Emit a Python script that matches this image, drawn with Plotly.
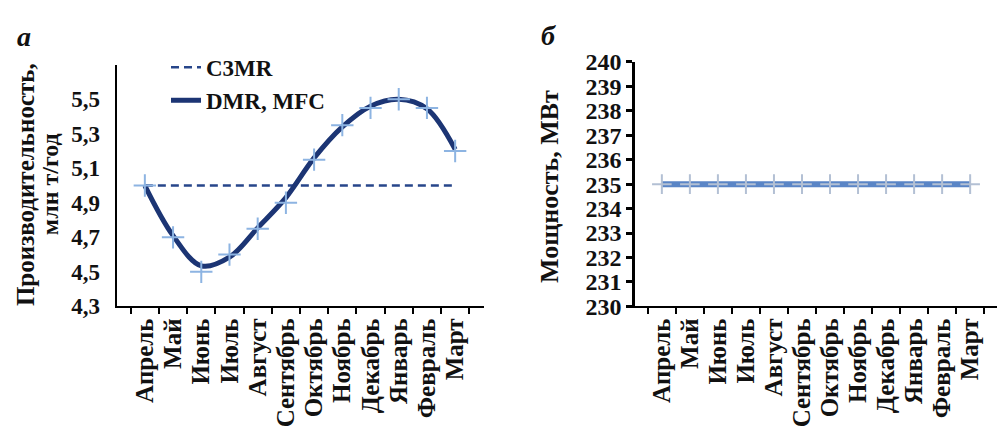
import plotly.graph_objects as go

months = ["Апрель", "Май", "Июнь", "Июль", "Август", "Сентябрь", "Октябрь",
          "Ноябрь", "Декабрь", "Январь", "Февраль", "Март"]
c3mr = [5.0] * 12
dmr_points = [5.0, 4.7, 4.5, 4.6, 4.75, 4.9, 5.15, 5.35, 5.45, 5.5, 5.45, 5.2]
dmr_curve = [5.0, 4.71, 4.535, 4.585, 4.755, 4.93, 5.16, 5.34, 5.46, 5.5, 5.445, 5.21]
power = [235] * 12
left_ticks = [4.3, 4.5, 4.7, 4.9, 5.1, 5.3, 5.5]
left_ticktext = ["4,3", "4,5", "4,7", "4,9", "5,1", "5,3", "5,5"]

W, H = 997, 436
FONT = "Liberation Serif"
NAVY = "#1c3574"

def px(x):
    return x / W

def py(y):
    return 1 - y / H

fig = go.Figure()
fig.add_trace(go.Scatter(x=months, y=c3mr, mode="lines", name="C3MR",
                         line=dict(color="#27468a", width=2.5, dash="8px,5px"),
                         xaxis="x", yaxis="y"))
fig.add_trace(go.Scatter(x=months, y=dmr_curve, mode="lines", name="DMR, MFC",
                         line=dict(color=NAVY, width=5, shape="spline", smoothing=1.0),
                         xaxis="x", yaxis="y"))
fig.add_trace(go.Scatter(x=months, y=dmr_points, mode="markers", showlegend=False,
                         marker=dict(symbol="cross-thin", size=16, color="#8db4e2",
                                     line=dict(color="#8db4e2", width=2)),
                         xaxis="x", yaxis="y"))
fig.add_trace(go.Scatter(x=months, y=power, mode="lines", showlegend=False,
                         line=dict(color="#5a85c6", width=6),
                         xaxis="x2", yaxis="y2"))
fig.add_trace(go.Scatter(x=months, y=power, mode="markers", showlegend=False,
                         marker=dict(symbol="cross-thin", size=14, color="#b3c0d4",
                                     line=dict(color="#b3c0d4", width=2)),
                         xaxis="x2", yaxis="y2"))

axis_common = dict(showline=True, linecolor="black", showgrid=False, zeroline=False)
tickfont_x = dict(family=FONT, size=25, color="#111", weight="bold")
xcat = dict(type="category", tickmode="array", tickvals=months, ticktext=months,
            ticks="outside", tickson="boundaries", ticklen=6, tickwidth=1.5,
            tickcolor="black", tickangle=-90, tickfont=tickfont_x, linewidth=2,
            **axis_common)

fig.update_layout(
    width=W, height=H,
    margin=dict(l=0, r=0, t=0, b=0),
    paper_bgcolor="white", plot_bgcolor="white",
    font=dict(family=FONT, color="#111"),
    xaxis=dict(domain=[px(116.5), px(483.5)], anchor="y", **xcat),
    yaxis=dict(domain=[py(312), py(55)], range=[4.3, 5.7], anchor="x",
               tickvals=left_ticks, ticktext=left_ticktext, ticks="",
               ticklabelstandoff=10,
               tickfont=dict(family=FONT, size=23, color="#111", weight="bold"),
               linewidth=2, **axis_common),
    xaxis2=dict(domain=[px(635), 1.0], anchor="y2", **xcat),
    yaxis2=dict(domain=[py(312), py(52)], range=[230, 240], dtick=1, anchor="x2",
                ticks="outside", ticklen=6, tickwidth=2.5, tickcolor="black",
                tickfont=dict(family=FONT, size=24, color="#111", weight="bold"),
                linewidth=2.5, **axis_common),
    legend=dict(x=px(166), y=py(35), xanchor="left", yanchor="top",
                bgcolor="rgba(0,0,0,0)", tracegroupgap=0,
                font=dict(family=FONT, size=23, color="#111", weight="bold")),
    showlegend=True,
)

annotations = [
    dict(text="Производительность,", x=px(25), y=py(183), textangle=-90,
         font=dict(family=FONT, size=25, weight="bold", color="#111")),
    dict(text="млн т/год", x=px(50), y=py(182), textangle=-90,
         font=dict(family=FONT, size=24, weight="bold", color="#111")),
    dict(text="Мощность, МВт", x=px(550), y=py(185), textangle=-90,
         font=dict(family=FONT, size=26, weight="bold", color="#111")),
    dict(text="а", x=px(24), y=py(25),
         font=dict(family=FONT, size=28, weight="bold", style="italic", color="#111")),
    dict(text="б", x=px(548), y=py(24),
         font=dict(family=FONT, size=28, weight="bold", style="italic", color="#111")),
]
for a in annotations:
    a.update(xref="paper", yref="paper", xanchor="center", yanchor="middle",
             showarrow=False)
fig.update_layout(annotations=annotations)

fig.write_html("out.html", config={"displayModeBar": False},
               post_script="document.body.style.margin='0';")
